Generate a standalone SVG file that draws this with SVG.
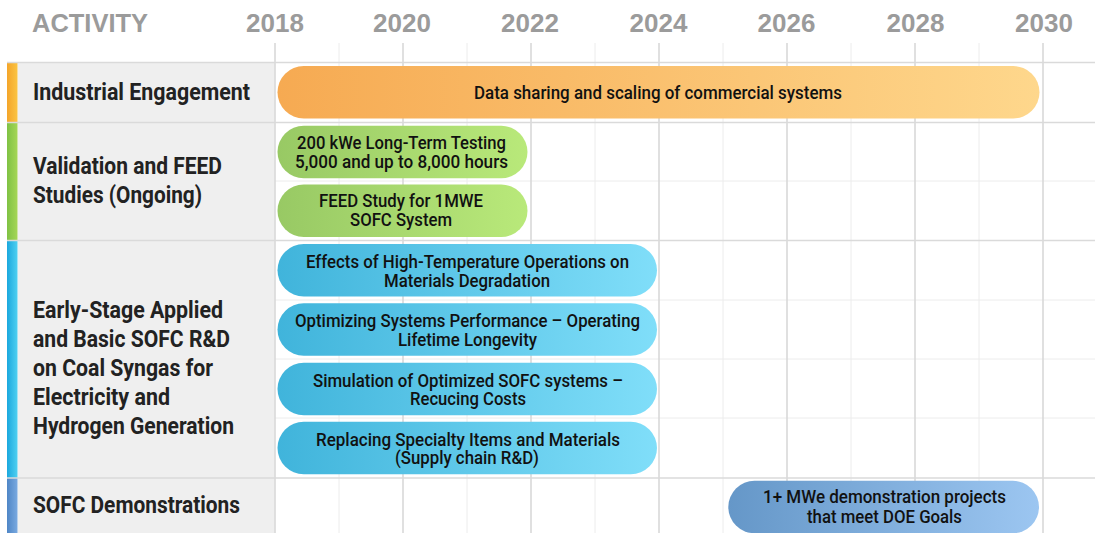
<svg xmlns="http://www.w3.org/2000/svg" width="1095" height="533" viewBox="0 0 1095 533">
<defs>
<linearGradient id="gOrange" x1="0" y1="0" x2="1" y2="0"><stop offset="0" stop-color="#f6aa52"/><stop offset="1" stop-color="#fed78c"/></linearGradient>
<linearGradient id="gGreen" x1="0" y1="0" x2="1" y2="0"><stop offset="0" stop-color="#98c964"/><stop offset="1" stop-color="#b9e97a"/></linearGradient>
<linearGradient id="gBlue" x1="0" y1="0" x2="1" y2="0"><stop offset="0" stop-color="#40b4db"/><stop offset="1" stop-color="#80def9"/></linearGradient>
<linearGradient id="gDemo" x1="0" y1="0" x2="1" y2="0"><stop offset="0" stop-color="#6597c8"/><stop offset="1" stop-color="#9cc6f1"/></linearGradient>
<linearGradient id="sOrange" x1="0" y1="0" x2="1" y2="0"><stop offset="0" stop-color="#f4a52a"/><stop offset="1" stop-color="#fbc443"/></linearGradient>
<linearGradient id="sGreen" x1="0" y1="0" x2="1" y2="0"><stop offset="0" stop-color="#7fc244"/><stop offset="1" stop-color="#a5d656"/></linearGradient>
<linearGradient id="sBlue" x1="0" y1="0" x2="1" y2="0"><stop offset="0" stop-color="#1ba8de"/><stop offset="1" stop-color="#4fd0f1"/></linearGradient>
<linearGradient id="sDemo" x1="0" y1="0" x2="1" y2="0"><stop offset="0" stop-color="#4f86c6"/><stop offset="1" stop-color="#79a9e0"/></linearGradient>
</defs>
<style>
.hdr{font-family:"Liberation Sans",Arial,sans-serif;font-weight:bold;font-size:26px;fill:#9b9b9b}
.yr{text-anchor:middle}
.lbl{font-family:Roboto,"Liberation Sans",sans-serif;font-weight:bold;font-size:23px;fill:#222222}
.bt{font-family:Roboto,"Liberation Sans",sans-serif;font-weight:500;font-size:18.5px;fill:#111111;text-anchor:middle}
.maj{stroke:#d6d6d6;stroke-width:1.5}
.min{stroke:#ececec;stroke-width:1}
.row{stroke:#dadada;stroke-width:1.5}
.sub{stroke:#ececec;stroke-width:1}
.panel{fill:#efefef}
</style>
<rect width="1095" height="533" fill="#ffffff"/>
<g id="grid">
<rect class="panel" x="17.5" y="62.5" width="257" height="470.5"/>
<rect x="7" y="62.5" width="10.5" height="60" fill="url(#sOrange)"/>
<rect x="7" y="122.5" width="10.5" height="118" fill="url(#sGreen)"/>
<rect x="7" y="240.5" width="10.5" height="237.5" fill="url(#sBlue)"/>
<rect x="7" y="478" width="10.5" height="55" fill="url(#sDemo)"/>
<line class="min" x1="339" y1="43" x2="339" y2="533"/>
<line class="min" x1="467" y1="43" x2="467" y2="533"/>
<line class="min" x1="595" y1="43" x2="595" y2="533"/>
<line class="min" x1="723" y1="43" x2="723" y2="533"/>
<line class="min" x1="851" y1="43" x2="851" y2="533"/>
<line class="min" x1="979" y1="43" x2="979" y2="533"/>
<line class="sub" x1="275" y1="181" x2="1095" y2="181"/>
<line class="sub" x1="275" y1="300" x2="1095" y2="300"/>
<line class="sub" x1="275" y1="359" x2="1095" y2="359"/>
<line class="sub" x1="275" y1="418" x2="1095" y2="418"/>
<line class="maj" x1="275" y1="43" x2="275" y2="533"/>
<line class="maj" x1="403" y1="43" x2="403" y2="533"/>
<line class="maj" x1="531" y1="43" x2="531" y2="533"/>
<line class="maj" x1="659" y1="43" x2="659" y2="533"/>
<line class="maj" x1="787" y1="43" x2="787" y2="533"/>
<line class="maj" x1="915" y1="43" x2="915" y2="533"/>
<line class="maj" x1="1043" y1="43" x2="1043" y2="533"/>
<line class="row" x1="7" y1="62.5" x2="1095" y2="62.5"/>
<line class="row" x1="7" y1="122.5" x2="1095" y2="122.5"/>
<line class="row" x1="7" y1="240.5" x2="1095" y2="240.5"/>
<line class="row" x1="7" y1="478" x2="1095" y2="478"/>
</g>
<g id="header">
<text class="hdr" x="32" y="32" textLength="116" lengthAdjust="spacingAndGlyphs">ACTIVITY</text>
<text class="hdr yr" x="275" y="32">2018</text>
<text class="hdr yr" x="402" y="32">2020</text>
<text class="hdr yr" x="530" y="32">2022</text>
<text class="hdr yr" x="658.5" y="32">2024</text>
<text class="hdr yr" x="786.5" y="32">2026</text>
<text class="hdr yr" x="915.5" y="32">2028</text>
<text class="hdr yr" x="1044" y="32">2030</text>
</g>
<g id="label-industrial">
<text class="lbl" x="33" y="99.5" textLength="217" lengthAdjust="spacingAndGlyphs">Industrial Engagement</text>
</g>
<g id="label-validation">
<text class="lbl" x="33" y="174" textLength="189" lengthAdjust="spacingAndGlyphs">Validation and FEED</text>
<text class="lbl" x="33" y="203" textLength="169" lengthAdjust="spacingAndGlyphs">Studies (Ongoing)</text>
</g>
<g id="label-early">
<text class="lbl" x="33" y="317.5" textLength="190" lengthAdjust="spacingAndGlyphs">Early-Stage Applied</text>
<text class="lbl" x="33" y="346.5" textLength="197" lengthAdjust="spacingAndGlyphs">and Basic SOFC R&amp;D</text>
<text class="lbl" x="33" y="375.5" textLength="180" lengthAdjust="spacingAndGlyphs">on Coal Syngas for</text>
<text class="lbl" x="33" y="404.5" textLength="137" lengthAdjust="spacingAndGlyphs">Electricity and</text>
<text class="lbl" x="33" y="433.5" textLength="201" lengthAdjust="spacingAndGlyphs">Hydrogen Generation</text>
</g>
<g id="label-demo">
<text class="lbl" x="33" y="513" textLength="207" lengthAdjust="spacingAndGlyphs">SOFC Demonstrations</text>
</g>
<g id="bar-industrial">
<rect x="277.5" y="66" width="762" height="52.5" rx="26.25" fill="url(#gOrange)"/>
<text class="bt" x="658" y="99" textLength="368" lengthAdjust="spacingAndGlyphs">Data sharing and scaling of commercial systems</text>
</g>
<g id="bar-testing">
<rect x="277.5" y="125.8" width="250" height="52.5" rx="26.25" fill="url(#gGreen)"/>
<text class="bt" x="401.5" y="149" textLength="209" lengthAdjust="spacingAndGlyphs">200 kWe Long-Term Testing</text>
<text class="bt" x="401.5" y="167.5" textLength="213" lengthAdjust="spacingAndGlyphs">5,000 and up to 8,000 hours</text>
</g>
<g id="bar-feed">
<rect x="277.5" y="184.5" width="250" height="52.5" rx="26.25" fill="url(#gGreen)"/>
<text class="bt" x="401" y="207" textLength="164" lengthAdjust="spacingAndGlyphs">FEED Study for 1MWE</text>
<text class="bt" x="401" y="226" textLength="102" lengthAdjust="spacingAndGlyphs">SOFC System</text>
</g>
<g id="bar-hightemp">
<rect x="277.5" y="244" width="379.5" height="52.5" rx="26.25" fill="url(#gBlue)"/>
<text class="bt" x="467.5" y="268" textLength="323" lengthAdjust="spacingAndGlyphs">Effects of High-Temperature Operations on</text>
<text class="bt" x="467" y="286.5" textLength="166" lengthAdjust="spacingAndGlyphs">Materials Degradation</text>
</g>
<g id="bar-performance">
<rect x="277.5" y="303.3" width="379.5" height="52.5" rx="26.25" fill="url(#gBlue)"/>
<text class="bt" x="467.5" y="327" textLength="345" lengthAdjust="spacingAndGlyphs">Optimizing Systems Performance – Operating</text>
<text class="bt" x="467.5" y="346" textLength="139" lengthAdjust="spacingAndGlyphs">Lifetime Longevity</text>
</g>
<g id="bar-simulation">
<rect x="277.5" y="362.7" width="379.5" height="52.5" rx="26.25" fill="url(#gBlue)"/>
<text class="bt" x="468" y="386.5" textLength="310" lengthAdjust="spacingAndGlyphs">Simulation of Optimized SOFC systems –</text>
<text class="bt" x="468" y="405" textLength="116" lengthAdjust="spacingAndGlyphs">Recucing Costs</text>
</g>
<g id="bar-supply">
<rect x="277.5" y="421.8" width="379.5" height="52.5" rx="26.25" fill="url(#gBlue)"/>
<text class="bt" x="468" y="446" textLength="304" lengthAdjust="spacingAndGlyphs">Replacing Specialty Items and Materials</text>
<text class="bt" x="467" y="464" textLength="144" lengthAdjust="spacingAndGlyphs">(Supply chain R&amp;D)</text>
</g>
<g id="bar-demo">
<rect x="728.3" y="480.7" width="310.7" height="52.5" rx="26.25" fill="url(#gDemo)"/>
<text class="bt" x="884.5" y="503" textLength="243" lengthAdjust="spacingAndGlyphs">1+ MWe demonstration projects</text>
<text class="bt" x="884.5" y="522.5" textLength="155" lengthAdjust="spacingAndGlyphs">that meet DOE Goals</text>
</g>
<g id="connectors"/>
</svg>
